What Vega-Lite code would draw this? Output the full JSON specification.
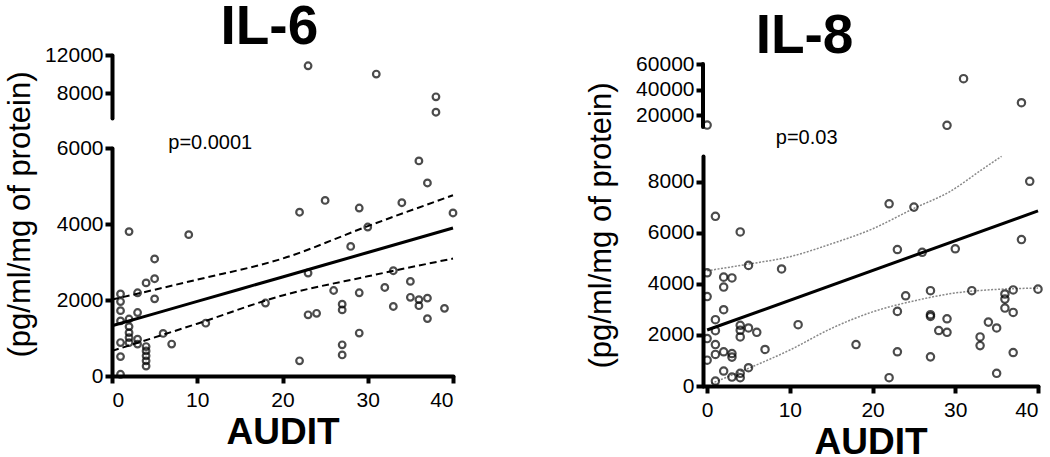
{
  "$schema": "https://vega.github.io/schema/vega-lite/v6.json",
  "background": "white",
  "padding": {"left": 3, "top": 0, "right": 0, "bottom": 0},
  "config": {
    "view": {"stroke": null},
    "font": "Liberation Sans",
    "axis": {"domainColor": "black", "domainWidth": 4, "domainCap": "round", "tickColor": "black", "tickWidth": 4, "tickSize": 7, "labelFont": "Liberation Sans", "labelFontSize": 21, "labelColor": "black", "grid": false, "titleFont": "Liberation Sans", "titleColor": "black"},
    "axisX": {"labelPadding": 6, "titleFontSize": 37, "titleFontWeight": "bold", "titlePadding": 4},
    "axisY": {"labelPadding": 2, "titleFontSize": 31, "titleFontWeight": "normal", "titleBaseline": "middle", "titleAlign": "center"},
    "title": {"font": "Liberation Sans", "fontSize": 55, "fontWeight": "bold", "color": "black", "anchor": "middle"}
  },
  "datasets": {
    "il6": [
      {"audit": 2, "value": 3800}, {"audit": 9, "value": 3720}, {"audit": 5, "value": 3080}, {"audit": 5, "value": 2560},
      {"audit": 4, "value": 2450}, {"audit": 5, "value": 2030}, {"audit": 3, "value": 2190}, {"audit": 1, "value": 2160},
      {"audit": 1, "value": 1960}, {"audit": 1, "value": 1720}, {"audit": 1, "value": 1450}, {"audit": 2, "value": 1500},
      {"audit": 2, "value": 1300}, {"audit": 2, "value": 1140}, {"audit": 2, "value": 1010}, {"audit": 2, "value": 880},
      {"audit": 3, "value": 1670}, {"audit": 3, "value": 970}, {"audit": 3, "value": 840}, {"audit": 1, "value": 880},
      {"audit": 1, "value": 510}, {"audit": 1, "value": 45}, {"audit": 4, "value": 775}, {"audit": 4, "value": 660},
      {"audit": 4, "value": 530}, {"audit": 4, "value": 400}, {"audit": 4, "value": 260}, {"audit": 6, "value": 1120},
      {"audit": 7, "value": 840}, {"audit": 11, "value": 1390}, {"audit": 18, "value": 1920},
      {"audit": 37, "value": 5080}, {"audit": 25, "value": 4620}, {"audit": 22, "value": 4310}, {"audit": 29, "value": 4420},
      {"audit": 34, "value": 4560}, {"audit": 40, "value": 4290}, {"audit": 30, "value": 3920}, {"audit": 28, "value": 3410},
      {"audit": 23, "value": 2710}, {"audit": 33, "value": 2770}, {"audit": 35, "value": 2490}, {"audit": 32, "value": 2330},
      {"audit": 26, "value": 2250}, {"audit": 29, "value": 2190}, {"audit": 35, "value": 2070}, {"audit": 36, "value": 2010},
      {"audit": 37, "value": 2050}, {"audit": 36, "value": 1850}, {"audit": 33, "value": 1830}, {"audit": 39, "value": 1780},
      {"audit": 37, "value": 1510}, {"audit": 27, "value": 1890}, {"audit": 27, "value": 1740}, {"audit": 23, "value": 1610},
      {"audit": 24, "value": 1650}, {"audit": 29, "value": 1130}, {"audit": 27, "value": 820}, {"audit": 27, "value": 555},
      {"audit": 22, "value": 400}, {"audit": 36, "value": 5660},
      {"audit": 23, "value": 10880}, {"audit": 31, "value": 10020}, {"audit": 38, "value": 7650}, {"audit": 38, "value": 6050}
    ],
    "il6fit": [
      {"audit": 0, "fit": 1321, "lo": 660, "hi": 2010},
      {"audit": 10, "fit": 1964, "lo": 1376, "hi": 2536},
      {"audit": 20, "fit": 2607, "lo": 2120, "hi": 3090},
      {"audit": 30, "fit": 3250, "lo": 2623, "hi": 3943},
      {"audit": 40, "fit": 3893, "lo": 3091, "hi": 4756}
    ],
    "il6p": [{"audit": 6.6, "value": 6130, "label": "p=0.0001"}],
    "il8": [
      {"audit": 1, "value": 6640}, {"audit": 4, "value": 6030}, {"audit": 0, "value": 4430}, {"audit": 5, "value": 4720},
      {"audit": 9, "value": 4580}, {"audit": 2, "value": 4260}, {"audit": 3, "value": 4230}, {"audit": 2, "value": 3870},
      {"audit": 0, "value": 3500}, {"audit": 2, "value": 2985}, {"audit": 1, "value": 2595}, {"audit": 1, "value": 2165},
      {"audit": 4, "value": 2375}, {"audit": 4, "value": 2180}, {"audit": 4, "value": 1920}, {"audit": 5, "value": 2270},
      {"audit": 6, "value": 2100}, {"audit": 11, "value": 2400}, {"audit": 18, "value": 1620}, {"audit": 0, "value": 1855},
      {"audit": 1, "value": 1620}, {"audit": 1, "value": 1235}, {"audit": 2, "value": 1340}, {"audit": 3, "value": 1270},
      {"audit": 3, "value": 1130}, {"audit": 0, "value": 1010}, {"audit": 7, "value": 1430}, {"audit": 2, "value": 585},
      {"audit": 3, "value": 350}, {"audit": 4, "value": 495}, {"audit": 4, "value": 325}, {"audit": 5, "value": 715},
      {"audit": 1, "value": 195},
      {"audit": 39, "value": 8010}, {"audit": 22, "value": 7130}, {"audit": 25, "value": 7000}, {"audit": 38, "value": 5730},
      {"audit": 23, "value": 5340}, {"audit": 26, "value": 5230}, {"audit": 30, "value": 5370}, {"audit": 24, "value": 3530},
      {"audit": 27, "value": 3730}, {"audit": 32, "value": 3730}, {"audit": 36, "value": 3600}, {"audit": 37, "value": 3760},
      {"audit": 40, "value": 3790}, {"audit": 36, "value": 3400}, {"audit": 36, "value": 3050}, {"audit": 37, "value": 2880},
      {"audit": 23, "value": 2920}, {"audit": 27, "value": 2790}, {"audit": 27, "value": 2720}, {"audit": 29, "value": 2630},
      {"audit": 28, "value": 2170}, {"audit": 29, "value": 2100}, {"audit": 34, "value": 2500}, {"audit": 35, "value": 2270},
      {"audit": 33, "value": 1920}, {"audit": 33, "value": 1580}, {"audit": 23, "value": 1340}, {"audit": 27, "value": 1140},
      {"audit": 37, "value": 1310}, {"audit": 22, "value": 325}, {"audit": 35, "value": 495},
      {"audit": 0, "value": 12500}, {"audit": 29, "value": 12300}, {"audit": 31, "value": 48600}, {"audit": 38, "value": 29900}
    ],
    "il8fit": [{"audit": 0, "value": 2190}, {"audit": 40, "value": 6850}],
    "il8hi": [
      {"audit": 0, "value": 4510}, {"audit": 5, "value": 4770}, {"audit": 10, "value": 5060}, {"audit": 15, "value": 5560},
      {"audit": 20, "value": 6150}, {"audit": 25, "value": 6950}, {"audit": 29.3, "value": 7600}, {"audit": 33.4, "value": 8510},
      {"audit": 35.6, "value": 8990}
    ],
    "il8lo": [
      {"audit": 0.5, "value": 100}, {"audit": 5, "value": 692}, {"audit": 10, "value": 1408}, {"audit": 15, "value": 2250},
      {"audit": 20, "value": 2900}, {"audit": 25, "value": 3330}, {"audit": 30, "value": 3640}, {"audit": 35, "value": 3780},
      {"audit": 40, "value": 3830}
    ],
    "il8p": [{"audit": 8.3, "value": 9700, "label": "p=0.03"}]
  },
  "hconcat": [
    {
      "title": {"text": "IL-6", "offset": -12, "dx": 37},
      "bounds": "flush",
      "spacing": 30,
      "vconcat": [
        {
          "width": 341, "height": 63,
          "data": {"name": "il6"},
          "transform": [{"filter": "datum.value > 6000"}],
          "mark": {"type": "point", "filled": false, "stroke": "black", "strokeWidth": 2.2, "size": 44, "clip": false},
          "encoding": {
            "x": {"field": "audit", "type": "quantitative", "scale": {"domain": [0, 40], "nice": false}, "axis": null},
            "y": {"field": "value", "type": "quantitative", "scale": {"domain": [5450, 12000], "nice": false, "zero": false}, "axis": {"values": [8000, 12000], "format": "d", "title": null}}
          }
        },
        {
          "width": 341, "height": 228,
          "encoding": {
            "x": {"field": "audit", "type": "quantitative", "scale": {"domain": [0, 40], "nice": false}, "axis": {"values": [0, 10, 20, 30, 40], "title": "AUDIT"}}
          },
          "layer": [
            {
              "data": {"name": "il6fit"},
              "mark": {"type": "line", "stroke": "black", "strokeWidth": 3, "interpolate": "monotone"},
              "encoding": {"y": {"field": "fit", "type": "quantitative", "scale": {"domain": [0, 6000], "nice": false}, "axis": {"values": [0, 2000, 4000, 6000], "format": "d", "title": "(pg/ml/mg of protein)", "titleX": -92, "titleY": 66}}}
            },
            {
              "data": {"name": "il6fit"},
              "mark": {"type": "line", "stroke": "black", "strokeWidth": 2, "strokeDash": [7, 4], "interpolate": "monotone"},
              "encoding": {"y": {"field": "lo", "type": "quantitative"}}
            },
            {
              "data": {"name": "il6fit"},
              "mark": {"type": "line", "stroke": "black", "strokeWidth": 2, "strokeDash": [7, 4], "interpolate": "monotone"},
              "encoding": {"y": {"field": "hi", "type": "quantitative"}}
            },
            {
              "data": {"name": "il6"},
              "transform": [{"filter": "datum.value <= 6000"}],
              "mark": {"type": "point", "filled": false, "stroke": "black", "strokeWidth": 2.2, "size": 44},
              "encoding": {"y": {"field": "value", "type": "quantitative"}}
            },
            {
              "data": {"name": "il6p"},
              "mark": {"type": "text", "align": "left", "baseline": "middle", "fontSize": 20, "color": "black", "font": "Liberation Sans"},
              "encoding": {"y": {"field": "value", "type": "quantitative"}, "text": {"field": "label"}}
            }
          ]
        }
      ]
    },
    {
      "title": {"text": "IL-8", "offset": -12, "dx": -11},
      "bounds": "flush",
      "spacing": 29,
      "vconcat": [
        {
          "width": 335, "height": 72,
          "encoding": {
            "x": {"type": "quantitative", "scale": {"domain": [-0.5, 40], "nice": false, "zero": false}, "axis": null},
            "y": {"type": "quantitative", "scale": {"domain": [11000, 67000], "nice": false, "zero": false}, "axis": {"values": [20000, 40000, 60000], "format": "d", "title": null, "domain": false}}
          },
          "layer": [
            {
              "data": {"values": [{}]},
              "mark": {"type": "rule", "stroke": "black", "strokeWidth": 4, "strokeCap": "round"},
              "encoding": {"x": {"datum": -0.5, "type": "quantitative"}, "y": {"datum": 11000, "type": "quantitative"}, "y2": {"datum": 60000}}
            },
            {
              "data": {"name": "il8"},
              "transform": [{"filter": "datum.value > 10000"}],
              "mark": {"type": "point", "filled": false, "stroke": "black", "strokeWidth": 2.2, "size": 54, "clip": false},
              "encoding": {"x": {"field": "audit", "type": "quantitative"}, "y": {"field": "value", "type": "quantitative"}}
            }
          ]
        },
        {
          "width": 335, "height": 230,
          "encoding": {
            "x": {"field": "audit", "type": "quantitative", "scale": {"domain": [-0.5, 40], "nice": false, "zero": false}, "axis": {"values": [0, 10, 20, 30, 40], "title": "AUDIT"}}
          },
          "layer": [
            {
              "data": {"name": "il8hi"},
              "mark": {"type": "line", "stroke": "#888888", "strokeWidth": 1.5, "strokeDash": [2, 1.5], "interpolate": "monotone"},
              "encoding": {"y": {"field": "value", "type": "quantitative", "scale": {"domain": [0, 9000], "nice": false}, "axis": {"values": [0, 2000, 4000, 6000, 8000], "format": "d", "title": "(pg/ml/mg of protein)", "titleX": -102, "titleY": 69}}}
            },
            {
              "data": {"name": "il8lo"},
              "mark": {"type": "line", "stroke": "#888888", "strokeWidth": 1.5, "strokeDash": [2, 1.5], "interpolate": "monotone"},
              "encoding": {"y": {"field": "value", "type": "quantitative"}}
            },
            {
              "data": {"name": "il8fit"},
              "mark": {"type": "line", "stroke": "black", "strokeWidth": 3},
              "encoding": {"y": {"field": "value", "type": "quantitative"}}
            },
            {
              "data": {"name": "il8"},
              "transform": [{"filter": "datum.value <= 10000"}],
              "mark": {"type": "point", "filled": false, "stroke": "black", "strokeWidth": 2.2, "size": 54},
              "encoding": {"y": {"field": "value", "type": "quantitative"}}
            },
            {
              "data": {"name": "il8p"},
              "mark": {"type": "text", "align": "left", "baseline": "middle", "fontSize": 20, "color": "black", "font": "Liberation Sans"},
              "encoding": {"y": {"field": "value", "type": "quantitative"}, "text": {"field": "label"}}
            }
          ]
        }
      ]
    }
  ],
  "spacing": 123
}
